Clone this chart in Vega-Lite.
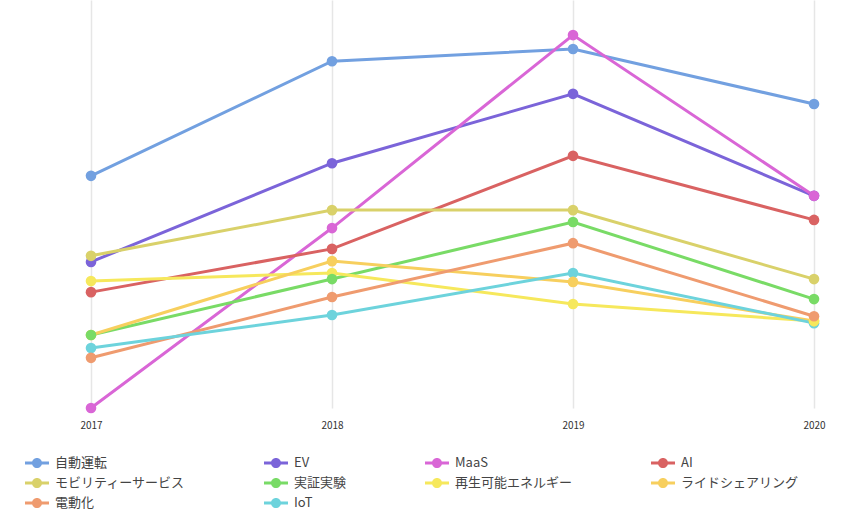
{
  "$schema": "https://vega.github.io/schema/vega-lite/v6.json",
  "autosize": {"type": "none"},
  "width": 723,
  "height": 408,
  "padding": {"left": 91, "top": 0, "right": 39, "bottom": 115},
  "config": {
    "font": "Noto Sans CJK JP",
    "view": {"stroke": null},
    "axis": {"labelFont": "Noto Sans CJK JP", "labelColor": "#333333"}
  },
  "data": {
    "values": [
      {"year": "2017", "keyword": "自動運転", "count": 56.9},
      {"year": "2018", "keyword": "自動運転", "count": 85.0},
      {"year": "2019", "keyword": "自動運転", "count": 88.0},
      {"year": "2020", "keyword": "自動運転", "count": 74.5},
      {"year": "2017", "keyword": "EV", "count": 35.8},
      {"year": "2018", "keyword": "EV", "count": 60.0},
      {"year": "2019", "keyword": "EV", "count": 77.0},
      {"year": "2020", "keyword": "EV", "count": 52.0},
      {"year": "2017", "keyword": "MaaS", "count": 0},
      {"year": "2018", "keyword": "MaaS", "count": 44.1},
      {"year": "2019", "keyword": "MaaS", "count": 91.4},
      {"year": "2020", "keyword": "MaaS", "count": 52.0},
      {"year": "2017", "keyword": "AI", "count": 28.4},
      {"year": "2018", "keyword": "AI", "count": 39.0},
      {"year": "2019", "keyword": "AI", "count": 61.8},
      {"year": "2020", "keyword": "AI", "count": 46.1},
      {"year": "2017", "keyword": "モビリティーサービス", "count": 37.3},
      {"year": "2018", "keyword": "モビリティーサービス", "count": 48.5},
      {"year": "2019", "keyword": "モビリティーサービス", "count": 48.5},
      {"year": "2020", "keyword": "モビリティーサービス", "count": 31.6},
      {"year": "2017", "keyword": "実証実験", "count": 17.9},
      {"year": "2018", "keyword": "実証実験", "count": 31.6},
      {"year": "2019", "keyword": "実証実験", "count": 45.6},
      {"year": "2020", "keyword": "実証実験", "count": 26.7},
      {"year": "2017", "keyword": "再生可能エネルギー", "count": 31.1},
      {"year": "2018", "keyword": "再生可能エネルギー", "count": 33.1},
      {"year": "2019", "keyword": "再生可能エネルギー", "count": 25.5},
      {"year": "2020", "keyword": "再生可能エネルギー", "count": 21.3},
      {"year": "2017", "keyword": "ライドシェアリング", "count": 17.9},
      {"year": "2018", "keyword": "ライドシェアリング", "count": 36.0},
      {"year": "2019", "keyword": "ライドシェアリング", "count": 30.9},
      {"year": "2020", "keyword": "ライドシェアリング", "count": 21.3},
      {"year": "2017", "keyword": "電動化", "count": 12.3},
      {"year": "2018", "keyword": "電動化", "count": 27.2},
      {"year": "2019", "keyword": "電動化", "count": 40.4},
      {"year": "2020", "keyword": "電動化", "count": 22.5},
      {"year": "2017", "keyword": "IoT", "count": 14.7},
      {"year": "2018", "keyword": "IoT", "count": 22.8},
      {"year": "2019", "keyword": "IoT", "count": 33.1},
      {"year": "2020", "keyword": "IoT", "count": 20.8}
    ]
  },
  "encoding": {
    "x": {
      "field": "year",
      "type": "ordinal",
      "scale": {"type": "point", "padding": 0},
      "axis": {
        "title": null,
        "labelAngle": 0,
        "labelFontSize": 10,
        "labelPadding": 12,
        "ticks": false,
        "domain": false,
        "grid": true,
        "gridColor": "#e6e6e6",
        "gridWidth": 1.5
      }
    },
    "y": {
      "field": "count",
      "type": "quantitative",
      "scale": {"domain": [0, 100], "nice": false, "zero": true},
      "axis": null
    },
    "color": {
      "field": "keyword",
      "type": "nominal",
      "sort": ["自動運転", "EV", "MaaS", "AI", "モビリティーサービス", "実証実験", "再生可能エネルギー", "ライドシェアリング", "電動化", "IoT"],
      "scale": {
        "domain": ["自動運転", "EV", "MaaS", "AI", "モビリティーサービス", "実証実験", "再生可能エネルギー", "ライドシェアリング", "電動化", "IoT"],
        "range": ["#72a0e0", "#7b64d9", "#d966d6", "#d96262", "#d9d16a", "#79db66", "#f6e85c", "#f7cf5e", "#ef9b6f", "#6dd3dc"]
      },
      "legend": {
        "title": null,
        "orient": "none",
        "legendX": -66,
        "legendY": 451,
        "direction": "horizontal",
        "columns": 4,
        "columnPadding": 78,
        "rowPadding": 1,
        "labelFont": "Noto Sans CJK JP",
        "labelFontSize": 13,
        "labelColor": "#444444",
        "labelOffset": 6,
        "symbolType": "M-1,-0.13L1,-0.13L1,0.13L-1,0.13Z M0.42,0A0.42,0.42 0 1,1 -0.42,0A0.42,0.42 0 1,1 0.42,0Z",
        "symbolSize": 576,
        "symbolStrokeWidth": 0,
        "symbolOpacity": 1
      }
    },
    "order": {"field": "keyword"}
  },
  "layer": [
    {"mark": {"type": "line", "strokeWidth": 3}},
    {"mark": {"type": "point", "filled": true, "size": 113, "opacity": 1}}
  ]
}
